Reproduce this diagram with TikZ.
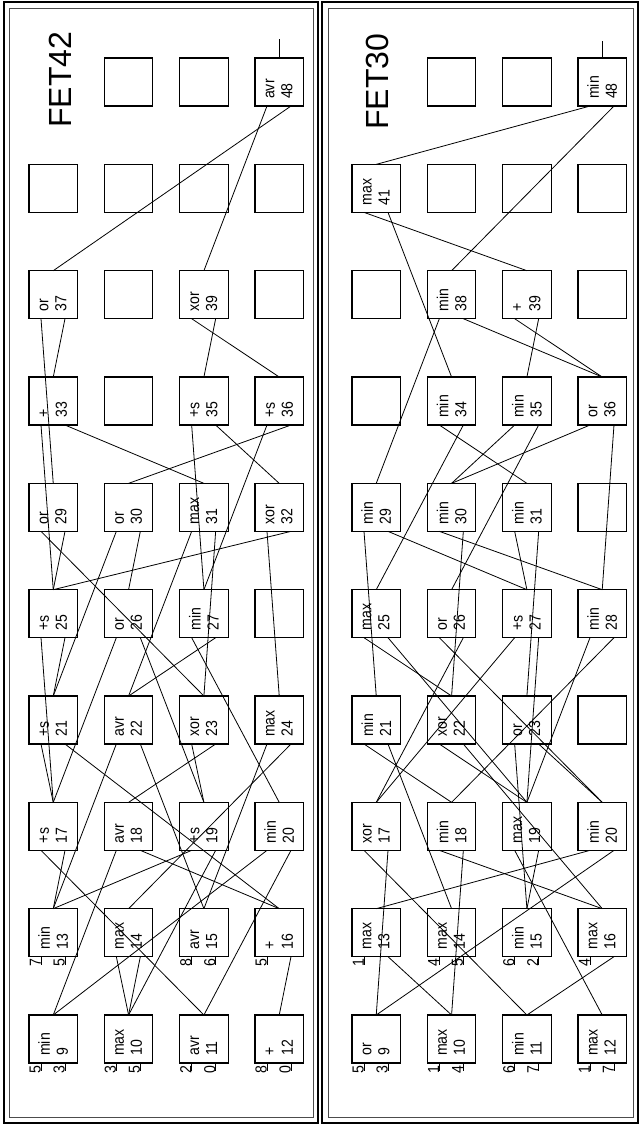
\documentclass[tikz,border=0pt]{standalone}
\usepackage{fontspec}
\setmainfont{Liberation Sans}
\newfontfamily\boxfont[FakeStretch=0.88]{Liberation Sans}
\begin{document}
\begin{tikzpicture}[x=1pt,y=-1pt,
  cell/.style={draw=black, line width=1.2pt, minimum width=48.5pt, minimum height=48pt, inner sep=0pt, outer sep=0pt, anchor=north west},
  lab/.style={rotate=90, anchor=west, align=left, inner sep=0pt, font=\boxfont\fontsize{16}{18}\selectfont},
  inl/.style={rotate=90, anchor=south east, inner sep=0pt, font=\boxfont\fontsize{16}{18}\selectfont},
  wire/.style={line width=0.8pt},
  ttl/.style={rotate=90, anchor=west, inner sep=0pt, font=\fontsize{32}{36}\selectfont},
  frameo/.style={line width=1.6pt},
  framei/.style={line width=0.8pt, black!70}]
\useasboundingbox (0,0) rectangle (640,1125);
% frames
\draw[frameo] (4,2) rectangle (318,1123);
\draw[framei] (9,8) rectangle (313,1117);
\draw[frameo] (322,2) rectangle (638,1123);
\draw[framei] (328,8) rectangle (633,1117);
% titles
\node[ttl] (tA) at (60,128) {FET42};
\node[ttl] (tB) at (377.5,130) {FET30};
% grid of cells
\foreach \c in {1,...,10} {
  \foreach \r in {1,...,4} {
    \pgfmathsetmacro\T{1015-106.33*(\c-1)}
    \pgfmathsetmacro\L{29+75.33*(\r-1)}
    \pgfmathsetmacro\LB{\L+323}
    \pgfmathtruncatemacro\n{9+4*(\c-1)+\r-1}
    \ifnum\n=45\else
    \node[cell] (A\n) at (\L,\T) {};
    \node[cell] (B\n) at (\LB,\T) {};
    \fi
    \coordinate (A\n-1) at (\L+12,\T+48);
    \coordinate (A\n-2) at (\L+36,\T+48);
    \coordinate (B\n-1) at (\LB+12,\T+48);
    \coordinate (B\n-2) at (\LB+36,\T+48);
  }
}
% function labels
\foreach \n/\f in {9/min,10/max,11/avr,12/+,13/min,14/max,15/avr,16/+,17/+s,18/avr,19/+s,20/min,21/+s,22/avr,23/xor,24/max,25/+s,26/or,27/min,29/or,30/or,31/max,32/xor,33/+,35/+s,36/+s,37/or,39/xor,48/avr}
  \path (A\n.south) ++(0,-7) node[lab] {\f\\\n};
\foreach \n/\f in {9/or,10/max,11/min,12/max,13/max,14/max,15/min,16/max,17/xor,18/min,19/max,20/min,21/min,22/xor,23/or,25/max,26/or,27/+s,28/min,29/min,30/min,31/min,34/min,35/min,36/or,38/min,39/+,41/max,48/min}
  \path (B\n.south) ++(0,-7) node[lab] {\f\\\n};
% primary input labels
\foreach \p/\n/\k/\v in {A/9/1/5,A/9/2/3,A/10/1/3,A/10/2/5,A/11/1/2,A/11/2/0,A/12/1/8,A/12/2/0,A/13/1/7,A/13/2/5,A/15/1/8,A/15/2/6,A/16/1/5,
  B/9/1/5,B/9/2/3,B/10/1/1,B/10/2/4,B/11/1/6,B/11/2/7,B/12/1/1,B/12/2/7,B/13/1/1,B/14/1/4,B/14/2/5,B/15/1/6,B/15/2/2,B/16/1/4} {
  \draw[wire] (\p\n-\k) -- ++(0,8);
  \node[inl] at ([yshift=-2pt]\p\n-\k) {\v};
}
% outputs
\draw[wire] (A48.north) -- ++(0,-19);
\draw[wire] (B48.north) -- ++(0,-17);
% connections panel A
\foreach \n/\a/\b in {14/10/10,17/11/13,18/9/16,19/13/10,20/9/11,21/17/16,22/13/15,23/19/18,24/15/14,25/17/21,26/17/19,27/20/22,29/23/25,30/21/26,31/22/23,32/24/25,33/25/31,35/27/32,36/27/30,37/29/33,39/36/35,48/39/37} {
  \draw[wire] (A\n-1) -- (A\a.north);
  \draw[wire] (A\n-2) -- (A\b.north);
}
\draw[wire] (A16-2) -- (A12.north);
% connections panel B
\foreach \n/\a/\b in {17/11/9,18/16/10,19/12/15,20/13/9,21/18/14,22/19/16,23/15/20,25/22/19,26/20/17,27/17/19,28/19/18,29/21/27,30/28/22,31/27/23,34/31/25,35/30/26,36/30/28,38/29/36,39/36/35,41/39/34,48/41/38} {
  \draw[wire] (B\n-1) -- (B\a.north);
  \draw[wire] (B\n-2) -- (B\b.north);
}
\draw[wire] (B13-2) -- (B10.north);
\draw[wire] (B16-2) -- (B11.north);
\end{tikzpicture}
\end{document}
